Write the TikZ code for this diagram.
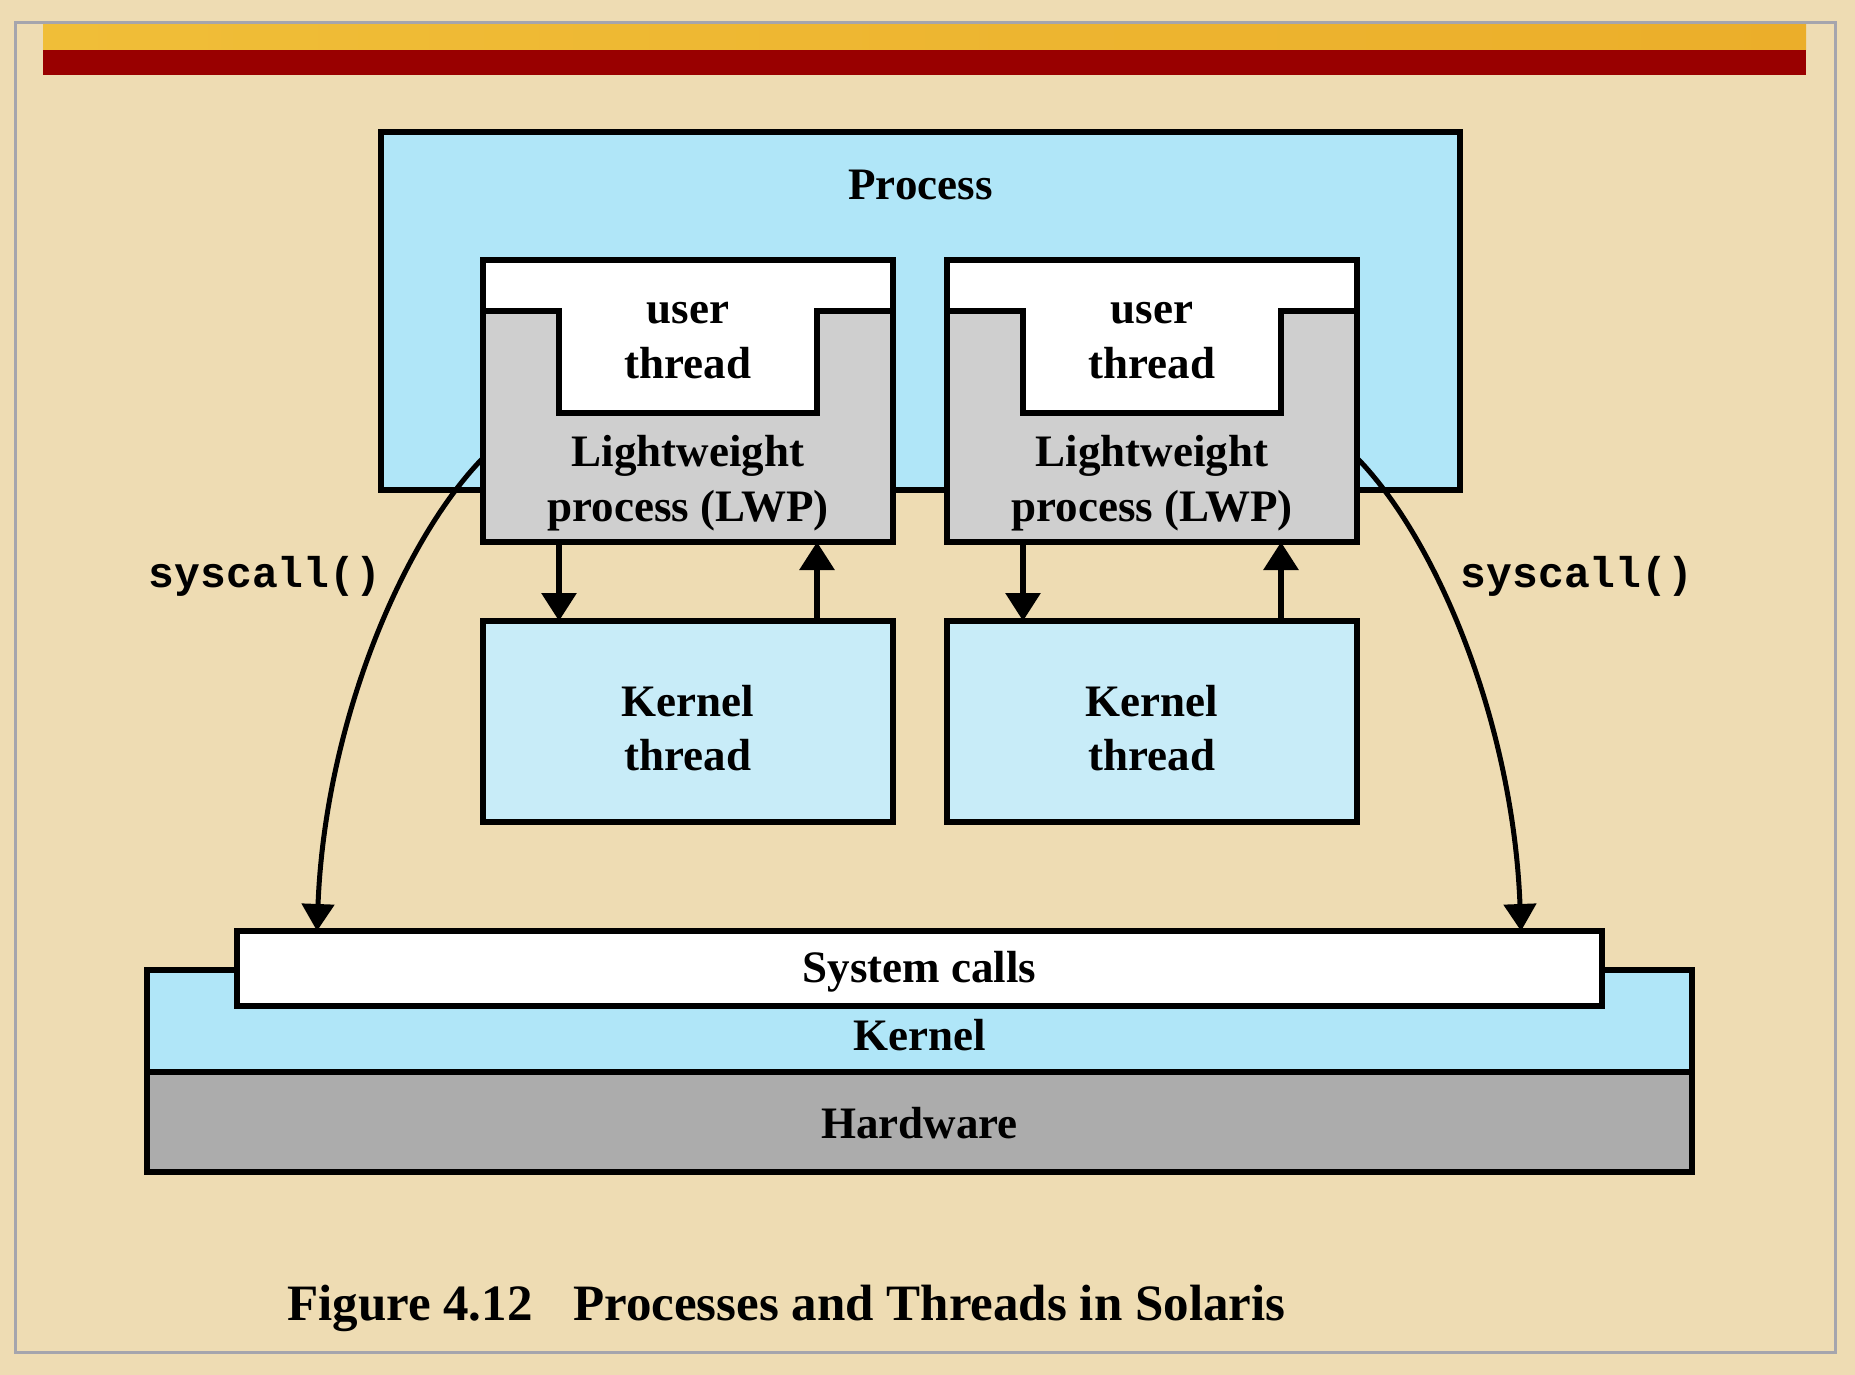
\documentclass[tikz,border=0pt]{standalone}
\usepackage{fontspec}
\setmainfont{Liberation Serif}
\setmonofont{Liberation Mono}
\usetikzlibrary{arrows.meta}
\definecolor{parch}{HTML}{EEDCB3}
\definecolor{framegrey}{HTML}{A5A5AD}
\definecolor{goldbar}{HTML}{F0BE38}
\definecolor{goldbarB}{HTML}{EBAE2A}
\definecolor{redbar}{HTML}{990000}
\definecolor{procblue}{HTML}{B0E6F8}
\definecolor{ktblue}{HTML}{C8ECF8}
\definecolor{lwpgrey}{HTML}{CFCFCF}
\definecolor{hwgrey}{HTML}{ACACAC}
\begin{document}
\begin{tikzpicture}[x=1pt,y=-1pt,
  box/.style={draw=black, line width=6pt, inner sep=0pt, outer sep=0pt},
  lbl/.style={anchor=base, inner sep=0pt, font=\bfseries\fontsize{45}{54}\selectfont},
  caplbl/.style={anchor=base west, inner sep=0pt, font=\bfseries\fontsize{51}{60}\selectfont},
  sclbl/.style={anchor=base, inner sep=0pt, font=\ttfamily\bfseries\fontsize{43}{50}\selectfont},
  arr/.style={line width=6pt, -{Triangle[width=34pt,length=28pt]}},
  curv/.style={line width=5pt, -{Triangle[width=32pt,length=27pt]}}]
% background
\fill[parch] (0,0) rectangle (1855,1375);
\useasboundingbox (0,0) rectangle (1855,1375);
\draw[framegrey, line width=3pt] (15,23) rectangle (1835,1352);
\shade[left color=goldbar, right color=goldbarB] (43,24.5) rectangle (1806,50);
\fill[redbar] (43,50) rectangle (1806,75);
% process
\node[box, fill=procblue, minimum width=1079pt, minimum height=358pt] (proc) at (920.5,311) {};
% lightweight processes
\node[box, fill=lwpgrey, minimum width=410pt, minimum height=282pt] (lwpL) at (688,401) {};
\node[box, fill=lwpgrey, minimum width=410pt, minimum height=282pt] (lwpR) at (1152,401) {};
\foreach \n in {lwpL,lwpR}{
  \draw[fill=white, line width=6pt]
    (\n.north west) -- (\n.north east) -- ([yshift=-51pt]\n.north east)
    -- ([xshift=-76pt,yshift=-51pt]\n.north east) -- ([xshift=-76pt,yshift=-153pt]\n.north east)
    -- ([xshift=76pt,yshift=-153pt]\n.north west) -- ([xshift=76pt,yshift=-51pt]\n.north west)
    -- ([yshift=-51pt]\n.north west) -- cycle;
}
% kernel threads
\node[box, fill=ktblue, minimum width=410pt, minimum height=201pt] (ktL) at (688,721.5) {};
\node[box, fill=ktblue, minimum width=410pt, minimum height=201pt] (ktR) at (1152,721.5) {};
% arrows LWP <-> kernel thread
\draw[arr] ([xshift=-129pt]lwpL.south) -- ([xshift=-129pt]ktL.north);
\draw[arr] ([xshift=129pt]ktL.north) -- ([xshift=129pt]lwpL.south);
\draw[arr] ([xshift=-129pt]lwpR.south) -- ([xshift=-129pt]ktR.north);
\draw[arr] ([xshift=129pt]ktR.north) -- ([xshift=129pt]lwpR.south);
% kernel, hardware, system calls
\node[box, fill=procblue, minimum width=1545pt, minimum height=102pt] (kern) at (919.5,1021) {};
\node[box, fill=hwgrey, minimum width=1545pt, minimum height=100pt] (hw) at (919.5,1122) {};
\node[box, fill=white, minimum width=1365pt, minimum height=75pt] (sys) at (919.5,968.5) {};
% syscall curves
\draw[curv] ([yshift=-57pt]lwpL.west) .. controls +(-80,82) and +(8,-208) .. ([xshift=80pt]sys.north west);
\draw[curv] ([yshift=-57pt]lwpR.east) .. controls +(80,82) and +(-8,-208) .. ([xshift=-81pt]sys.north east);
% labels
\node[lbl] (tProc) at ([yshift=-68pt]proc.north) {Process};
\foreach \n in {lwpL,lwpR}{
  \node[lbl] (\n u1) at ([yshift=-63pt]\n.north) {user};
  \node[lbl] (\n u2) at ([yshift=-118pt]\n.north) {thread};
  \node[lbl] (\n l1) at ([yshift=-206pt]\n.north) {Lightweight};
  \node[lbl] (\n l2) at ([yshift=-261pt]\n.north) {process (LWP)};
}
\foreach \n in {ktL,ktR}{
  \node[lbl] (\n k1) at ([yshift=-95pt]\n.north) {Kernel};
  \node[lbl] (\n k2) at ([yshift=-149pt]\n.north) {thread};
}
\node[lbl] (tSys) at ([yshift=-51pt]sys.north) {System calls};
\node[lbl] (tKern) at ([yshift=22pt]kern.south) {Kernel};
\node[lbl] (tHw) at ([yshift=-66pt]hw.north) {Hardware};
\node[sclbl] (scL) at (265,587) {syscall()};
\node[sclbl] (scR) at (1577,587) {syscall()};
\node[caplbl] (capA) at (287,1320) {Figure 4.12};
\node[caplbl] (capB) at (573,1320) {Processes and Threads in Solaris};
\end{tikzpicture}
\end{document}
